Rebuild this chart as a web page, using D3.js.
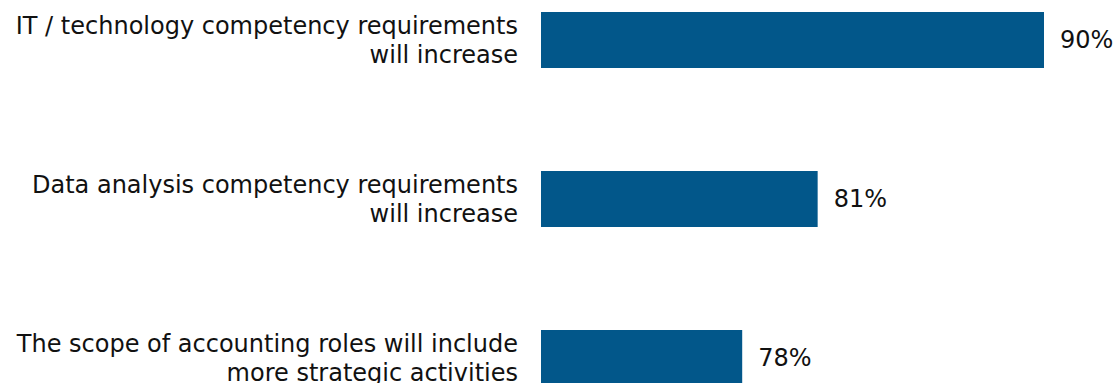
<!DOCTYPE html>
<html>
<head>
<meta charset="utf-8">
<script src="https://cdn.jsdelivr.net/npm/d3@7"></script>
<style>
  html, body { margin: 0; padding: 0; background: #ffffff; }
  svg { display: block; }
</style>
</head>
<body>
<div id="chart"></div>
<script>
// Survey statements (each split into two display lines) and share of agreement
const statements = [
  ["IT / technology competency requirements", "will increase"],
  ["Data analysis competency requirements", "will increase"],
  ["The scope of accounting roles will include", "more strategic activities"]
];
const shares = [90, 81, 78];
const shareLabels = ["90%", "81%", "78%"];

const width = 1118, height = 383;
const barColor = "#02578A";
const fontFamily = "'DejaVu Sans', Verdana, sans-serif";
const fontSize = 24;

const svg = d3.select("#chart").append("svg")
  .attr("width", width)
  .attr("height", height);

const ids = statements.map((d, i) => i);

const y = d3.scaleBand()
  .domain(ids)
  .range([-39.5, -39.5 + 3 * 159])
  .paddingInner(103 / 159)
  .paddingOuter(51.5 / 159);

const x = d3.scaleLinear()
  .domain([70, 90])
  .range([541, 1044]);

// bars
svg.append("g").selectAll("rect")
  .data(ids)
  .join("rect")
  .attr("x", x(70))
  .attr("y", i => y(i))
  .attr("width", i => x(shares[i]) - x(70))
  .attr("height", y.bandwidth())
  .attr("fill", barColor);

// value labels
svg.append("g").selectAll("text")
  .data(ids)
  .join("text")
  .attr("x", i => x(shares[i]) + 16)
  .attr("y", i => y(i) + y.bandwidth() / 2)
  .attr("dy", "0.35em")
  .attr("font-family", fontFamily)
  .attr("font-size", fontSize)
  .attr("fill", "#111")
  .text(i => shareLabels[i]);

// category labels, right-aligned against the bars
const lineGap = 29;
const cat = svg.append("g").selectAll("text")
  .data(ids)
  .join("text")
  .attr("text-anchor", "end")
  .attr("font-family", fontFamily)
  .attr("font-size", fontSize)
  .attr("fill", "#111")
  .attr("y", i => y(i) + y.bandwidth() / 2);

cat.selectAll("tspan")
  .data(i => statements[i].map((line, k) => ({ line, k, n: statements[i].length })))
  .join("tspan")
  .attr("x", 518)
  .attr("dy", d => d.k === 0 ? (-(d.n - 1) / 2 * lineGap + fontSize * 0.35) : lineGap)
  .text(d => d.line);
</script>
</body>
</html>
